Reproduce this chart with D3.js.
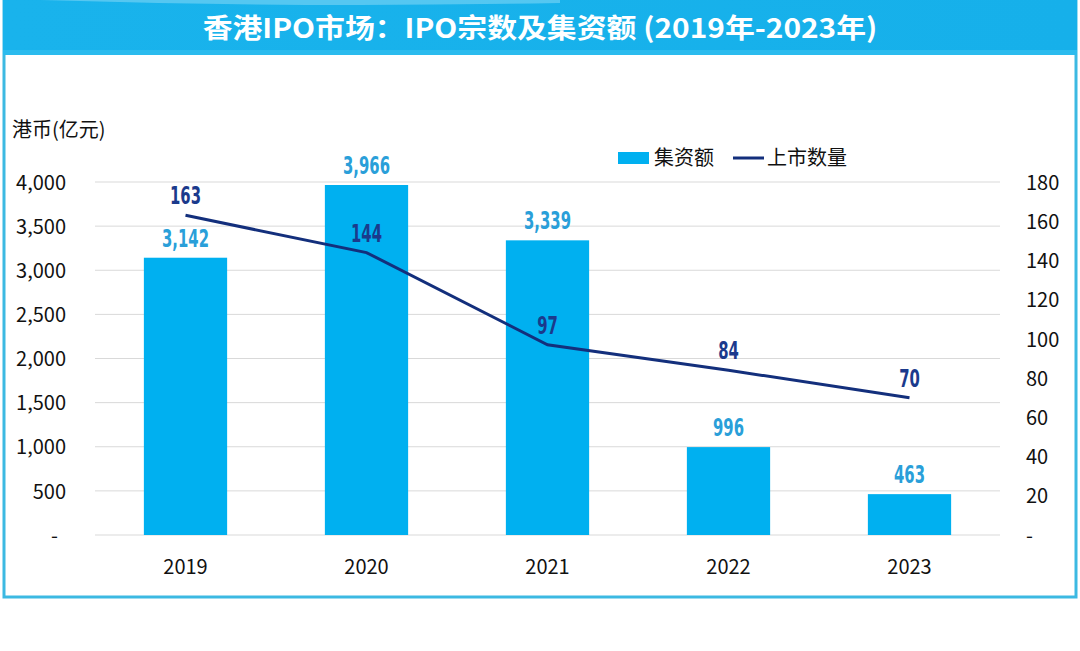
<!DOCTYPE html>
<html><head><meta charset="utf-8">
<script src="https://cdn.jsdelivr.net/npm/d3@7"></script>
<style>
html,body{margin:0;padding:0;background:#fff;}
svg{display:block;}
</style></head>
<body>
<svg id="c" width="1080" height="651"></svg>
<script>
const years = ["2019","2020","2021","2022","2023"];
const amounts = [3142, 3966, 3339, 996, 463];
const counts = [163, 144, 97, 84, 70];
const leftTicks = [0,500,1000,1500,2000,2500,3000,3500,4000];
const rightTicks = [0,20,40,60,80,100,120,140,160,180];
const title = "香港IPO市场：IPO宗数及集资额 (2019年-2023年)";
const yTitle = "港币(亿元)";
const legendNames = ["集资额","上市数量"];

const svg = d3.select("#c");
const CJK = "'Noto Sans CJK SC','Noto Sans',sans-serif";
const COND = "'DejaVu Sans Condensed','DejaVu Sans',sans-serif";

// frame
const defs = svg.append("defs");
const g1 = defs.append("linearGradient").attr("id","tg").attr("x1","0").attr("x2","1").attr("y1","0").attr("y2","0");
g1.append("stop").attr("offset","0").attr("stop-color","#19b3ec");
g1.append("stop").attr("offset","1").attr("stop-color","#16b0ea");
svg.append("rect").attr("x",4).attr("y",0).attr("width",1072).attr("height",597)
  .attr("fill","#fff").attr("stroke","#3cb9e2").attr("stroke-width",3);
svg.append("rect").attr("x",3).attr("y",0).attr("width",1074).attr("height",55).attr("fill","url(#tg)");
svg.append("path").attr("d","M40,0 L560,0 L560,3 Q300,8 40,0 Z").attr("fill","#6fd0f4").attr("opacity",0.7);
svg.append("rect").attr("x",3).attr("y",50).attr("width",1074).attr("height",5).attr("fill","#2bbbee");

const t = svg.append("text").attr("x",540).attr("y",38).attr("text-anchor","middle")
  .attr("fill","#fff").attr("font-family",CJK).attr("font-weight","bold").attr("font-size",27)
  .text(title);
const tl = t.node().getComputedTextLength();
t.attr("transform",`translate(540,0) scale(${675/tl},1) translate(-540,0)`);

// scales
const x = d3.scaleBand().domain(years).range([95,1000]).paddingInner(0.54).paddingOuter(0.27);
const yL = d3.scaleLinear().domain([0,4000]).range([535,182]);
const yR = d3.scaleLinear().domain([0,180]).range([535,182]);

// grid
svg.append("g").selectAll("line").data(leftTicks).join("line")
  .attr("x1",95).attr("x2",1000).attr("y1",d=>yL(d)).attr("y2",d=>yL(d))
  .attr("stroke","#d9d9d9").attr("stroke-width",1);

const AX = 20;
// left axis
const fmt = d => d===0 ? "-" : d3.format(",")(d);
const axL = d3.axisLeft(yL).tickValues(leftTicks).tickFormat(fmt).tickSize(0).tickPadding(0);
const gL = svg.append("g").attr("transform","translate(66,0)").call(axL);
gL.select(".domain").remove();
gL.selectAll("text").attr("font-family",CJK).attr("font-size",AX).attr("fill","#111").attr("dy","0.36em");
gL.selectAll(".tick").filter(d=>d===0).select("text").attr("dx",-8);

const axR = d3.axisRight(yR).tickValues(rightTicks).tickFormat(d=>d===0?"-":d).tickSize(0).tickPadding(0);
const gR = svg.append("g").attr("transform","translate(1026,0)").call(axR);
gR.select(".domain").remove();
gR.selectAll("text").attr("font-family",CJK).attr("font-size",AX).attr("fill","#111").attr("dy","0.36em");

// x axis
const axX = d3.axisBottom(x).tickSize(0).tickPadding(0);
const gX = svg.append("g").attr("transform","translate(0,567)").call(axX);
gX.select(".domain").remove();
gX.selectAll("text").attr("font-family",CJK).attr("font-size",AX).attr("fill","#111").attr("dy","0.36em");

// y title
svg.append("text").attr("x",12).attr("y",137).attr("font-family",CJK).attr("font-size",AX)
  .attr("fill","#111").text(yTitle);

// bars
svg.append("g").selectAll("rect").data(years).join("rect")
  .attr("x",d=>x(d)).attr("width",x.bandwidth())
  .attr("y",(d,i)=>yL(amounts[i])).attr("height",(d,i)=>yL(0)-yL(amounts[i]))
  .attr("fill","#00b0f0");

// line
const line = d3.line().x((d,i)=>x(years[i])+x.bandwidth()/2).y(d=>yR(d));
svg.append("path").datum(counts).attr("d",line).attr("fill","none")
  .attr("stroke","#132f7c").attr("stroke-width",3);

// labels
function condLabel(g, cx, cy, txt, color){
  g.append("text").attr("transform",`translate(${cx},${cy}) scale(0.66,1)`)
    .attr("text-anchor","middle").attr("font-family",COND).attr("font-weight","bold")
    .attr("font-size",25).attr("fill",color).text(txt);
}
const lg = svg.append("g");
years.forEach((yv,i)=>{
  const cx = x(yv)+x.bandwidth()/2;
  condLabel(lg, cx, yL(amounts[i])-11, d3.format(",")(amounts[i]), "#2a9fd9");
  condLabel(lg, cx, yR(counts[i])-11, counts[i], "#1b3a8c");
});

// legend
svg.append("rect").attr("x",618).attr("y",152).attr("width",31).attr("height",12).attr("fill","#00b0f0");
svg.append("text").attr("x",654).attr("y",165).attr("font-family",CJK).attr("font-size",AX).attr("fill","#111").text(legendNames[0]);
svg.append("line").attr("x1",733).attr("x2",764).attr("y1",158).attr("y2",158).attr("stroke","#132f7c").attr("stroke-width",3);
svg.append("text").attr("x",767).attr("y",165).attr("font-family",CJK).attr("font-size",AX).attr("fill","#111").text(legendNames[1]);
</script>
</body></html>
